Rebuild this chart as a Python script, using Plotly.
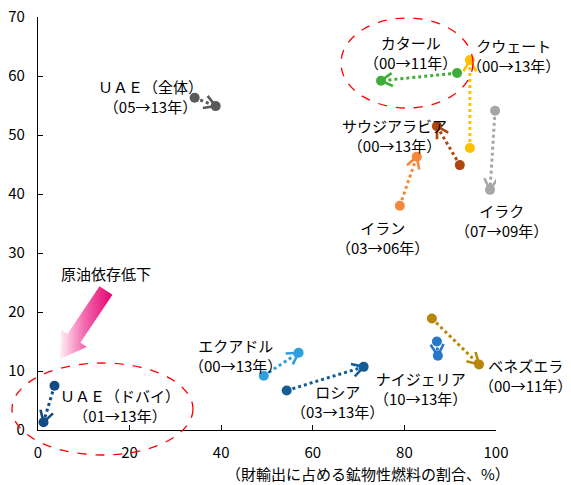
import math
import plotly.graph_objects as go

# ---- data: share of mineral fuels in merchandise exports (x, %) vs. y ----
countries = ["カタール", "クウェート", "イラク", "サウジアラビア", "イラン",
             "ＵＡＥ（全体）", "ＵＡＥ（ドバイ）", "エクアドル", "ロシア",
             "ナイジェリア", "ベネズエラ"]
periods = ["（00→11年）", "（00→13年）", "（07→09年）", "（00→13年）", "（03→06年）",
           "（05→13年）", "（01→13年）", "（00→13年）", "（03→13年）",
           "（10→13年）", "（00→11年）"]
x_start = [91.5, 94.3, 99.8, 92.1, 79.0, 34.2, 3.6, 49.3, 54.3, 87.1, 86.0]
y_start = [60.5, 47.8, 54.1, 44.9, 38.0, 56.3, 7.5, 9.2, 6.7, 15.0, 18.9]
x_end = [74.9, 94.3, 98.7, 87.1, 82.7, 38.8, 1.2, 56.9, 71.1, 87.3, 96.3]
y_end = [59.2, 62.7, 40.7, 51.5, 46.3, 54.9, 1.3, 13.1, 10.7, 12.6, 11.1]
colors = ["#3fae38", "#ffc000", "#a6a6a6", "#ad470e", "#f5883a",
          "#5a5a5a", "#134b84", "#2f9fdd", "#145d95", "#2777c9", "#b8860b"]

x_ticks = [0, 20, 40, 60, 80, 100]
y_ticks = [0, 10, 20, 30, 40, 50, 60, 70]
x_title = "（財輸出に占める鉱物性燃料の割合、%）"
note_text = "原油依存低下"

# ---- layout geometry ----
W, H = 571, 485
ML, MR, MT, MB = 38, 75, 17, 55
PW, PH = W - ML - MR, H - MT - MB
XR, YR = (0, 100), (0, 70)
SX = PW / (XR[1] - XR[0])   # px per x unit
SY = PH / (YR[1] - YR[0])   # px per y unit
FONT = "Noto Sans CJK JP"
FS = 15


def paper_x(px):
    return (px - ML) / PW


def paper_y(py):
    return (MT + PH - py) / PH


def data_x(px):
    return XR[0] + (px - ML) / SX


def data_y(py):
    return YR[0] + (MT + PH - py) / SY


fig = go.Figure()

# pink "declining oil dependence" arrow, built from tail/tip/widths in pixels
tail, tip = (106, 290.5), (60, 359)
shaft_hw, head_hw, head_len = 7.8, 15.5, 25.0
ux, uy = tip[0] - tail[0], tip[1] - tail[1]
ul = math.hypot(ux, uy)
ux, uy = ux / ul, uy / ul
nx, ny = -uy, ux
bx, by = tip[0] - head_len * ux, tip[1] - head_len * uy
poly = [
    (tail[0] + shaft_hw * nx, tail[1] + shaft_hw * ny),
    (bx + shaft_hw * nx, by + shaft_hw * ny),
    (bx + head_hw * nx, by + head_hw * ny),
    tip,
    (bx - head_hw * nx, by - head_hw * ny),
    (bx - shaft_hw * nx, by - shaft_hw * ny),
    (tail[0] - shaft_hw * nx, tail[1] - shaft_hw * ny),
]
poly.append(poly[0])
fig.add_trace(go.Scatter(
    x=[data_x(p[0]) for p in poly], y=[data_y(p[1]) for p in poly],
    mode="lines", fill="toself", line=dict(width=0),
    fillgradient=dict(type="horizontal",
                      colorscale=[[0, "#fff0f7"], [0.45, "#f36db0"], [1, "#e4006f"]]),
    hoverinfo="skip", showlegend=False,
))

# movement lines: dotted from first year to last year, V-shaped head at the end
for i in range(len(countries)):
    c = colors[i]
    fig.add_trace(go.Scatter(
        x=[x_start[i], x_end[i]], y=[y_start[i], y_end[i]],
        mode="lines", line=dict(color=c, width=3, dash="dot"),
        hoverinfo="skip", showlegend=False,
    ))
    # direction back along the line, in screen pixels
    dx = (x_start[i] - x_end[i]) * SX
    dy = -(y_start[i] - y_end[i]) * SY
    L = math.hypot(dx, dy)
    dx, dy = dx / L, dy / L
    wx, wy = [], []
    for ang in (math.radians(30), None, math.radians(-30)):
        if ang is None:
            wx.append(x_end[i])
            wy.append(y_end[i])
            continue
        rx = dx * math.cos(ang) - dy * math.sin(ang)
        ry = dx * math.sin(ang) + dy * math.cos(ang)
        wx.append(x_end[i] + 13 * rx / SX)
        wy.append(y_end[i] - 13 * ry / SY)
    fig.add_trace(go.Scatter(
        x=wx, y=wy, mode="lines", line=dict(color=c, width=2.6),
        hoverinfo="skip", showlegend=False,
    ))
    fig.add_trace(go.Scatter(
        x=[x_start[i], x_end[i]], y=[y_start[i], y_end[i]],
        mode="markers", marker=dict(color=c, size=10),
        cliponaxis=False, name=countries[i], showlegend=False,
    ))

# label blocks: pixel centre of each two-line label
label_pos = [(410, 52), (513, 56), (501, 220), (394, 135), (382, 237),
             (150, 96), (120, 405), (235, 355), (337, 401), (420, 388), (525, 375)]

annotations = []
for i in range(len(countries)):
    px, py = label_pos[i]
    annotations.append(dict(
        text=countries[i] + "<br>" + periods[i],
        x=paper_x(px), y=paper_y(py), xref="paper", yref="paper",
        xanchor="center", yanchor="middle", align="center", showarrow=False,
        font=dict(family=FONT, size=FS, color="#000000"),
    ))
annotations.append(dict(
    text=note_text, x=paper_x(106), y=paper_y(273), xref="paper", yref="paper",
    xanchor="center", yanchor="middle", showarrow=False,
    font=dict(family=FONT, size=FS, color="#000000"),
))
annotations.append(dict(
    text=x_title, x=paper_x(368), y=paper_y(473), xref="paper", yref="paper",
    xanchor="center", yanchor="middle", showarrow=False,
    font=dict(family=FONT, size=FS, color="#000000"),
))

# red dashed highlight ellipses (pixel bounds)
shapes = []
for (x0, y0, x1, y1) in ((341, 18, 473, 108), (12, 363, 193, 455)):
    shapes.append(dict(
        type="circle", xref="paper", yref="paper",
        x0=paper_x(x0), x1=paper_x(x1), y0=paper_y(y1), y1=paper_y(y0),
        line=dict(color="#ff0000", width=1.3, dash="dash"),
        fillcolor="rgba(0,0,0,0)", layer="above",
    ))

axis_common = dict(
    showline=True, linecolor="#000000", linewidth=1.2,
    ticks="inside", ticklen=5, tickcolor="#000000", tickwidth=1,
    showgrid=False, zeroline=False, automargin=False,
    tickfont=dict(family=FONT, size=FS, color="#000000"),
)
fig.update_layout(
    width=W, height=H,
    margin=dict(l=ML, r=MR, t=MT, b=MB),
    paper_bgcolor="#ffffff", plot_bgcolor="#ffffff",
    xaxis=dict(range=list(XR), tickvals=x_ticks, ticklabelstandoff=9, **axis_common),
    yaxis=dict(range=list(YR), tickvals=y_ticks, ticklabelstandoff=9, **axis_common),
    annotations=annotations, shapes=shapes,
    showlegend=False,
)

fig.write_html("out.html")
